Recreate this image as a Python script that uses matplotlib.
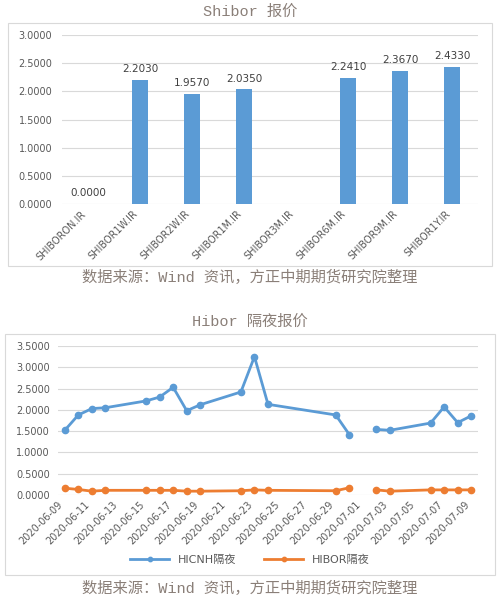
import numpy as np
import pandas as pd
import matplotlib
matplotlib.use('Agg')
import matplotlib.pyplot as plt
from matplotlib.patches import Rectangle

plt.rcParams['font.family'] = ['DejaVu Sans', 'Noto Sans CJK SC']

# ---- data ----
shibor_names = ['SHIBORON.IR', 'SHIBOR1W.IR', 'SHIBOR2W.IR', 'SHIBOR1M.IR',
                'SHIBOR3M.IR', 'SHIBOR6M.IR', 'SHIBOR9M.IR', 'SHIBOR1Y.IR']
shibor_vals = [0.0, 2.203, 1.957, 2.035, np.nan, 2.241, 2.367, 2.433]

hibor_dates = ['2020-06-09', '2020-06-10', '2020-06-11', '2020-06-12', '2020-06-15',
               '2020-06-16', '2020-06-17', '2020-06-18', '2020-06-19', '2020-06-22',
               '2020-06-23', '2020-06-24', '2020-06-29', '2020-06-30', '2020-07-01',
               '2020-07-02', '2020-07-03', '2020-07-06', '2020-07-07', '2020-07-08',
               '2020-07-09']
hicnh_on = [1.52, 1.88, 2.03, 2.05, 2.21, 2.30, 2.53, 1.98, 2.12, 2.42,
            3.25, 2.13, 1.88, 1.42, np.nan, 1.54, 1.52, 1.69, 2.07, 1.70, 1.86]
hibor_on = [0.16, 0.13, 0.09, 0.11, 0.11, 0.11, 0.11, 0.09, 0.09, 0.10,
            0.12, 0.11, 0.10, 0.17, np.nan, 0.12, 0.09, 0.12, 0.12, 0.12, 0.12]

W, H = 500, 599
fig = plt.figure(figsize=(W / 100, H / 100), dpi=100)
fig.patch.set_facecolor('white')

def px_axes(x0, y0, x1, y1):
    # pixel box (top-left origin) -> figure axes
    return fig.add_axes([x0 / W, 1 - y1 / H, (x1 - x0) / W, (y1 - y0) / H])

def px_box(x0, y0, x1, y1):
    fig.patches.append(Rectangle((x0 / W, 1 - y1 / H), (x1 - x0) / W, (y1 - y0) / H,
                                 transform=fig.transFigure, fill=False,
                                 edgecolor='#d9d9d9', linewidth=0.8))

title_font = ['Liberation Mono', 'Noto Sans CJK SC']
title_color = '#8a7f78'
tick_color = '#595959'
grid_color = '#d9d9d9'
source = '数据来源：Wind 资讯，方正中期期货研究院整理'

def style_axes(ax):
    for s in ax.spines.values():
        s.set_visible(False)
    ax.grid(axis='y', color=grid_color, linewidth=0.8)
    ax.set_axisbelow(True)
    ax.tick_params(length=0, colors=tick_color, labelsize=7)
    ax.yaxis.set_major_formatter(matplotlib.ticker.FormatStrFormatter('%.4f'))

# ---- top: Shibor bars ----
px_box(8, 23, 492, 266)
fig.text(0.5, 1 - 12 / H, 'Shibor 报价', ha='center', va='center', fontsize=11,
         family=title_font, color=title_color)
ax1 = px_axes(62, 35, 478, 204)
x = np.arange(len(shibor_names))
ax1.bar(x, shibor_vals, width=0.3, color='#5b9bd5')
ax1.set_xlim(-0.5, len(shibor_names) - 0.5)
ax1.set_ylim(0, 3.0)
ax1.set_yticks(np.arange(0, 3.01, 0.5))
style_axes(ax1)
ax1.tick_params(axis='y', pad=7)
ax1.set_xticks(x)
ax1.set_xticklabels(shibor_names, rotation=45, ha='right', fontsize=7)
for xi, v in zip(x, shibor_vals):
    if not np.isnan(v):
        ax1.annotate(f'{v:.4f}', (xi, v), xytext=(0, 4), textcoords='offset points',
                     ha='center', va='bottom', fontsize=7.5, color='#404040')
fig.text(0.5, 1 - 277 / H, source, ha='center', va='center', fontsize=11,
         family=title_font, color=title_color)

# ---- bottom: Hibor overnight lines ----
px_box(5, 334, 495, 575)
fig.text(0.5, 1 - 322 / H, 'Hibor 隔夜报价', ha='center', va='center', fontsize=11,
         family=title_font, color=title_color)
ax2 = px_axes(58, 346, 478, 495)
d = pd.to_datetime(hibor_dates)
ax2.plot(d, hicnh_on, color='#5b9bd5', lw=2, marker='o', ms=4.5, label='HICNH隔夜')
ax2.plot(d, hibor_on, color='#ed7d31', lw=2, marker='o', ms=4.5, label='HIBOR隔夜')
ax2.set_xlim(pd.Timestamp('2020-06-08 12:00'), pd.Timestamp('2020-07-09 12:00'))
ax2.set_ylim(0, 3.5)
ax2.set_yticks(np.arange(0, 3.51, 0.5))
style_axes(ax2)
ax2.tick_params(axis='y', pad=6)
ticks = pd.date_range('2020-06-09', '2020-07-09', freq='2D')
ax2.set_xticks(ticks)
ax2.set_xticklabels([t.strftime('%Y-%m-%d') for t in ticks], rotation=45, ha='right',
                    fontsize=7)
leg = fig.legend(loc='center', bbox_to_anchor=(0.5, 1 - 560 / H), ncol=2, frameon=False,
                 fontsize=8, handlelength=3.5, columnspacing=2.5, markerscale=0.7)
for t in leg.get_texts():
    t.set_color(tick_color)
fig.text(0.5, 1 - 588 / H, source, ha='center', va='center', fontsize=11,
         family=title_font, color=title_color)

fig.savefig('out.png', dpi=100, facecolor='white')
